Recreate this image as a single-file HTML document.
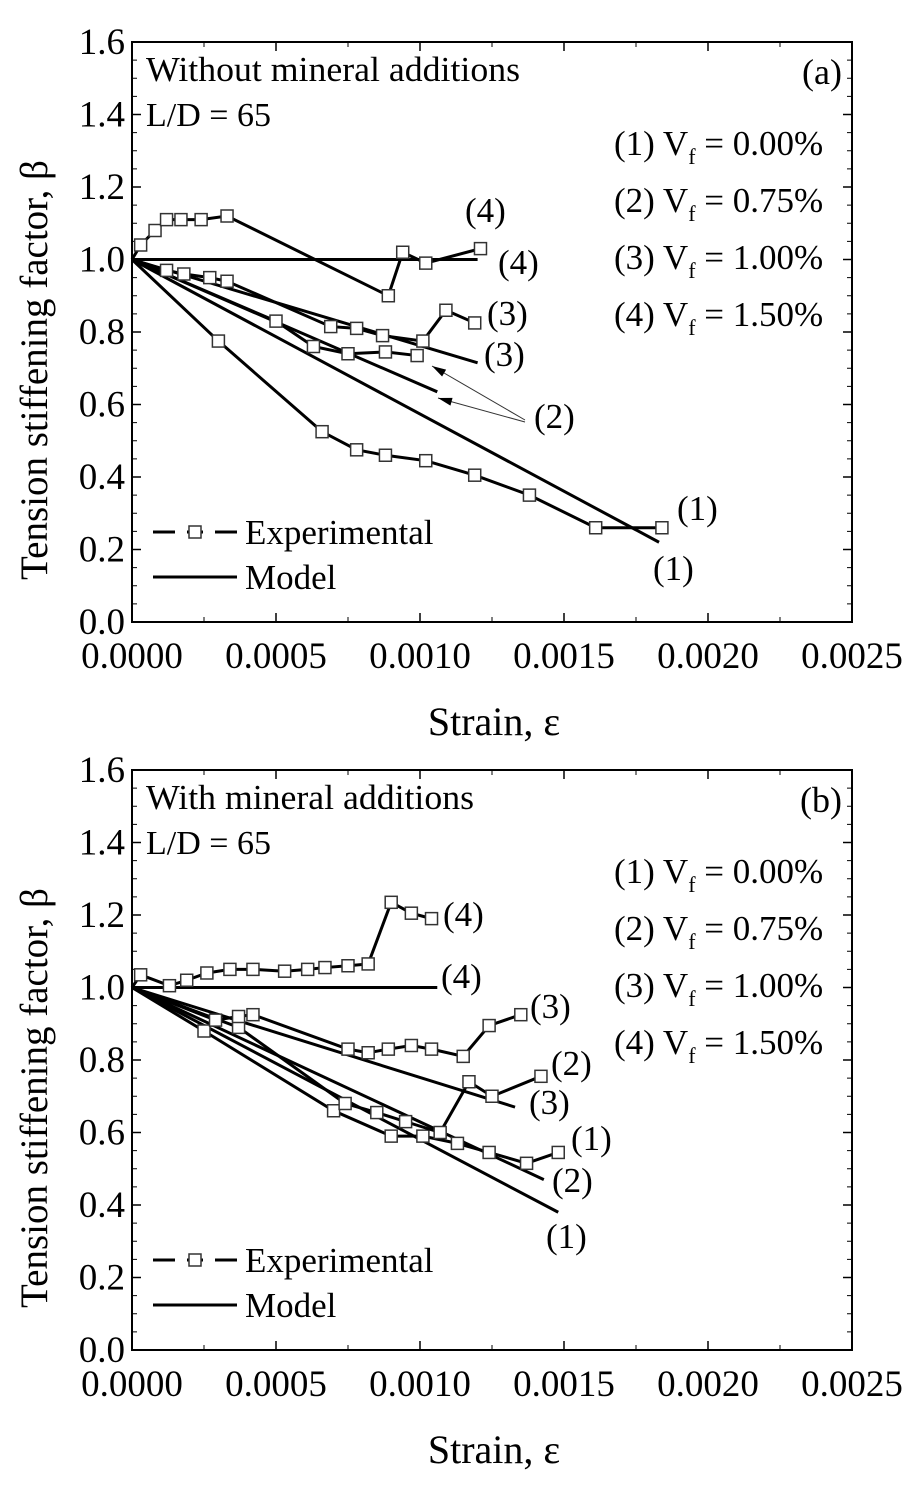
<!DOCTYPE html>
<html><head><meta charset="utf-8"><style>
html,body{margin:0;padding:0;background:#fff;}
svg{display:block;font-family:"Liberation Serif",serif;}
</style></head><body>
<svg id="chart" width="920" height="1486" viewBox="0 0 920 1486" xmlns="http://www.w3.org/2000/svg"></svg>
<script>
// ---- data: panel (a) ----
const aExp1X=[0,0.0003,0.00066,0.00078,0.00088,0.00102,0.00119,0.00138,0.00161,0.00184];
const aExp1Y=[1.0,0.775,0.525,0.475,0.46,0.445,0.405,0.35,0.26,0.26];
const aExp2X=[0,0.0005,0.00063,0.00075,0.00088,0.00099];
const aExp2Y=[1.0,0.83,0.76,0.74,0.745,0.735];
const aExp3X=[0,0.00012,0.00018,0.00027,0.00033,0.00069,0.00078,0.00087,0.00101,0.00109,0.00119];
const aExp3Y=[1.0,0.97,0.96,0.95,0.94,0.815,0.81,0.79,0.775,0.86,0.825];
const aExp4X=[0,0.00003,0.00008,0.00012,0.00017,0.00024,0.00033,0.00089,0.00094,0.00102,0.00121];
const aExp4Y=[1.0,1.04,1.08,1.11,1.11,1.11,1.12,0.90,1.02,0.99,1.03];
const aModEndX=[0.00183,0.00106,0.0012,0.0012];
const aModEndY=[0.22,0.635,0.715,1.0];
// ---- data: panel (b) ----
const bExp1X=[0,0.00025,0.0007,0.0009,0.00101,0.00113,0.00124,0.00137,0.00148];
const bExp1Y=[1.0,0.88,0.66,0.59,0.59,0.57,0.545,0.515,0.545];
const bExp2X=[0,0.00037,0.00074,0.00085,0.00095,0.00107,0.00117,0.00125,0.00142];
const bExp2Y=[1.0,0.89,0.68,0.655,0.63,0.6,0.74,0.7,0.755];
const bExp3X=[0,0.00029,0.00037,0.00042,0.00075,0.00082,0.00089,0.00097,0.00104,0.00115,0.00124,0.00135];
const bExp3Y=[1.0,0.91,0.92,0.925,0.83,0.82,0.83,0.84,0.83,0.81,0.895,0.925];
const bExp4X=[0,0.00003,0.00013,0.00019,0.00026,0.00034,0.00042,0.00053,0.00061,0.00067,0.00075,0.00082,0.0009,0.00097,0.00104];
const bExp4Y=[1.0,1.035,1.005,1.02,1.04,1.05,1.05,1.045,1.05,1.055,1.06,1.065,1.235,1.205,1.19];
const bModEndX=[0.00148,0.00143,0.00133,0.00106];
const bModEndY=[0.38,0.47,0.67,1.0];
// ticks
const xTicks=[0,0.0005,0.001,0.0015,0.002,0.0025];
const xTickLabels=["0.0000","0.0005","0.0010","0.0015","0.0020","0.0025"];
const yTicks=[0,0.2,0.4,0.6,0.8,1.0,1.2,1.4,1.6];
const yTickLabels=["0.0","0.2","0.4","0.6","0.8","1.0","1.2","1.4","1.6"];
const vfLabels=["(1) V","(2) V","(3) V","(4) V"];
const vfValues=[" = 0.00%"," = 0.75%"," = 1.00%"," = 1.50%"];

const NS="http://www.w3.org/2000/svg";
const svg=document.getElementById('chart');
function mk(tag,attrs,parent,text){const e=document.createElementNS(NS,tag);for(const k in attrs)e.setAttribute(k,attrs[k]);if(text!==undefined)e.textContent=text;(parent||svg).appendChild(e);return e;}

function panel(top,id,title,titleW,letter,exps,modX,modY,ann){
  const L=132,R=852,T=top,B=top+580;
  const xs=v=>L+v/0.0025*(R-L);
  const ys=v=>B-v/1.6*(B-T);
  const g=mk('g',{});
  
  
  const box=mk('rect',{x:L,y:T,width:R-L,height:B-T,fill:'none',stroke:'#000','stroke-width':2},g);
  
  xTicks.forEach((v,i)=>{
    mk('line',{x1:xs(v),x2:xs(v),y1:B,y2:B-9,stroke:'#000','stroke-width':1.5},g);
    mk('line',{x1:xs(v),x2:xs(v),y1:T,y2:T+9,stroke:'#000','stroke-width':1.5},g);
    if(i<xTicks.length-1){const m=xs(v+0.00025);mk('line',{x1:m,x2:m,y1:B,y2:B-5,stroke:'#000'},g);mk('line',{x1:m,x2:m,y1:T,y2:T+5,stroke:'#000'},g);}
    const t=mk('text',{x:xs(v),y:B+46,'font-size':37,'text-anchor':'middle'},g,xTickLabels[i]);
    
  });
  yTicks.forEach((v,i)=>{
    mk('line',{x1:L,x2:L+9,y1:ys(v),y2:ys(v),stroke:'#000','stroke-width':1.5},g);
    mk('line',{x1:R,x2:R-9,y1:ys(v),y2:ys(v),stroke:'#000','stroke-width':1.5},g);
    if(i<yTicks.length-1){for(let k=1;k<4;k++){const m=ys(v+k*0.05);mk('line',{x1:L,x2:L+5,y1:m,y2:m,stroke:'#000'},g);mk('line',{x1:R,x2:R-5,y1:m,y2:m,stroke:'#000'},g);}}
    const t=mk('text',{x:L-7,y:ys(v)+12,'font-size':37,'text-anchor':'end'},g,yTickLabels[i]);
    
  });
  const xt=mk('text',{x:494,y:B+113,'font-size':40,'text-anchor':'middle'},g,'Strain, ε');
  
  const yt=mk('text',{x:0,y:0,'font-size':39,'text-anchor':'middle',transform:`translate(47,${(T+B)/2+38}) rotate(-90)`},g,'Tension stiffening factor, β');
  
  modX.forEach((v,i)=>{
    const l=mk('line',{x1:xs(0),y1:ys(1),x2:xs(v),y2:ys(modY[i]),stroke:'#000','stroke-width':3},g);
    
  });
  exps.forEach((s,si)=>{
    const pts=s[0].map((x,i)=>xs(x)+','+ys(s[1][i])).join(' ');
    const p=mk('polyline',{points:pts,fill:'none',stroke:'#000','stroke-width':3},g);
    
    s[0].forEach((x,i)=>{ if(i===0)return;
      const r=mk('rect',{x:xs(x)-6,y:ys(s[1][i])-6,width:12,height:12,fill:'#fff',stroke:'#333','stroke-width':1.5},g);
      
    });
  });
  const t1=mk('text',{x:146,y:T+39,'font-size':35,textLength:titleW,lengthAdjust:'spacingAndGlyphs'},g,title);
  const t2=mk('text',{x:146,y:T+84,'font-size':34},g,'L/D = 65');
  const t3=mk('text',{x:842,y:T+42,'font-size':36,'text-anchor':'end'},g,letter);
  vfLabels.forEach((s,i)=>{
    const t=mk('text',{x:614,y:T+113+i*57,'font-size':35},g);
    
    mk('tspan',{},t,s);mk('tspan',{dy:9,'font-size':22},t,'f');mk('tspan',{dy:-9},t,vfValues[i]);
  });
  const lg=mk('g',{},g);
  const ly=B-90;
  mk('line',{x1:153,x2:237,y1:ly,y2:ly,stroke:'#000','stroke-width':3,'stroke-dasharray':'22 12 16 12 22'},lg);
  mk('rect',{x:189,y:ly-6,width:12,height:12,fill:'#fff',stroke:'#333','stroke-width':1.5},lg);
  mk('text',{x:245,y:ly+12,'font-size':35},lg,'Experimental');
  mk('line',{x1:153,x2:237,y1:ly+45,y2:ly+45,stroke:'#000','stroke-width':3},lg);
  mk('text',{x:245,y:ly+57,'font-size':35},lg,'Model');
  ann.forEach(a=>{const t=mk('text',{x:a[0],y:a[1],'font-size':35},g,a[2]);});
}

panel(42,'a','Without mineral additions',374,'(a)',
  [[aExp1X,aExp1Y],[aExp2X,aExp2Y],[aExp3X,aExp3Y],[aExp4X,aExp4Y]],aModEndX,aModEndY,
  [[465,222,'(4)'],[498,274,'(4)'],[487,325,'(3)'],[484,366,'(3)'],[534,428,'(2)'],[677,520,'(1)'],[653,580,'(1)']]);
panel(770,'b','With mineral additions',328,'(b)',
  [[bExp1X,bExp1Y],[bExp2X,bExp2Y],[bExp3X,bExp3Y],[bExp4X,bExp4Y]],bModEndX,bModEndY,
  [[443,926,'(4)'],[441,988,'(4)'],[530,1018,'(3)'],[551,1075,'(2)'],[529,1114,'(3)'],[571,1150,'(1)'],[552,1192,'(2)'],[546,1248,'(1)']]);
[[ [525,422],[438,398] ],[ [525,420],[432,366] ]].forEach(p=>{
  const l=mk('line',{x1:p[0][0],y1:p[0][1],x2:p[1][0],y2:p[1][1],stroke:'#333','stroke-width':1});
  
  const dx=p[1][0]-p[0][0],dy=p[1][1]-p[0][1],len=Math.hypot(dx,dy),ux=dx/len,uy=dy/len;
  const bx=p[1][0]-ux*14,by=p[1][1]-uy*14;
  const h=mk('polygon',{points:`${p[1][0]},${p[1][1]} ${bx-uy*4},${by+ux*4} ${bx+uy*4},${by-ux*4}`,fill:'#000'});
  
});
</script>
</body></html>
